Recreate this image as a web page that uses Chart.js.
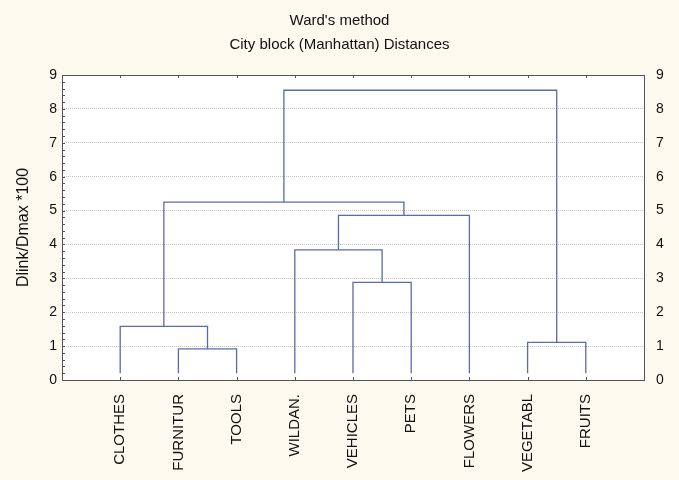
<!DOCTYPE html>
<html>
<head>
<meta charset="utf-8">
<script src="https://cdn.jsdelivr.net/npm/chart.js@4.4.0/dist/chart.umd.min.js"></script>
<style>
  html, body { margin: 0; padding: 0; background: #fdf9ee; }
  #wrap { width: 679px; height: 480px; }
</style>
</head>
<body>
<div id="wrap"><canvas id="dendro"></canvas></div>
<script>
// leaves in dendrogram order
const leafLabels = ['CLOTHES', 'FURNITUR', 'TOOLS', 'WILDAN.', 'VEHICLES', 'PETS', 'FLOWERS', 'VEGETABL', 'FRUITS'];
// merges: node ids 0..8 are leaves, each merge k creates node 9+k
const mergeLeft   = [1, 7, 0, 4, 3, 13, 11, 15];
const mergeRight  = [2, 8, 9, 5, 12, 6, 14, 10];
const mergeHeight = [0.92, 1.11, 1.58, 2.88, 3.84, 4.86, 5.25, 8.55];
const yTicks = [0, 1, 2, 3, 4, 5, 6, 7, 8, 9];
const leafBase = 0.2;

const lineColor = '#5b69ad';
const fontFamily = "'Liberation Sans', Arial, sans-serif";

// build the link lines
const nodeX = leafLabels.map((_, i) => i + 1);
const nodeH = leafLabels.map(() => leafBase);
const datasets = [];
mergeHeight.forEach((h, k) => {
    const a = mergeLeft[k], b = mergeRight[k];
    datasets.push({
        data: [
            { x: nodeX[a], y: nodeH[a] },
            { x: nodeX[a], y: h },
            { x: nodeX[b], y: h },
            { x: nodeX[b], y: nodeH[b] }
        ],
        showLine: true,
        borderColor: lineColor,
        borderWidth: 1.3,
        pointRadius: 0,
        tension: 0
    });
    nodeX.push((nodeX[a] + nodeX[b]) / 2);
    nodeH.push(h);
});

// background, frame and small tick marks
const framePlugin = {
    id: 'frame',
    beforeDraw(chart) {
        const { ctx, chartArea: a } = chart;
        ctx.save();
        ctx.fillStyle = '#fdf9ee';
        ctx.fillRect(0, 0, chart.width, chart.height);
        ctx.fillStyle = '#ffffff';
        ctx.fillRect(a.left, a.top, a.right - a.left, a.bottom - a.top);
        ctx.restore();
    },
    afterDraw(chart) {
        const { ctx, chartArea: a } = chart;
        const x = chart.scales.x, y = chart.scales.y;
        ctx.save();
        ctx.strokeStyle = '#555555';
        ctx.lineWidth = 1;
        ctx.strokeRect(Math.round(a.left) + 0.5, Math.round(a.top) + 0.5,
            Math.round(a.right - a.left), Math.round(a.bottom - a.top));
        ctx.beginPath();
        // minor ticks on the left axis
        for (let v = 0; v <= 9.001; v += 0.2) {
            const py = Math.round(y.getPixelForValue(v)) + 0.5;
            ctx.moveTo(a.left, py);
            ctx.lineTo(a.left + 3, py);
        }
        // category ticks top and bottom
        leafLabels.forEach((_, i) => {
            const px = Math.round(x.getPixelForValue(i + 1)) + 0.5;
            ctx.moveTo(px, a.top);
            ctx.lineTo(px, a.top + 3);
            ctx.moveTo(px, a.bottom);
            ctx.lineTo(px, a.bottom - 3);
        });
        ctx.stroke();
        ctx.restore();
    }
};

const ctx = document.getElementById('dendro').getContext('2d');
new Chart(ctx, {
    type: 'scatter',
    data: { datasets: datasets },
    plugins: [framePlugin],
    options: {
        responsive: true,
        maintainAspectRatio: false,
        animation: false,
        layout: { padding: 0 },
        plugins: {
            legend: { display: false },
            tooltip: { enabled: false },
            title: {
                display: true,
                text: ["Ward's method", 'City block (Manhattan) Distances'],
                color: '#111111',
                font: { family: fontFamily, size: 15, weight: 'normal', lineHeight: 1.6 },
                padding: { top: 9, bottom: 18 }
            }
        },
        scales: {
            x: {
                type: 'linear',
                position: 'bottom',
                min: 0,
                max: 10,
                afterBuildTicks: (s) => { s.ticks = leafLabels.map((_, i) => ({ value: i + 1 })); },
                afterFit: (s) => { s.height = 100; },
                grid: { display: false },
                border: { display: false },
                ticks: {
                    autoSkip: false,
                    minRotation: 90,
                    maxRotation: 90,
                    padding: 6,
                    color: '#111111',
                    font: { family: fontFamily, size: 15 },
                    callback: (v) => leafLabels[v - 1]
                }
            },
            y: {
                position: 'left',
                min: 0,
                max: 9,
                afterBuildTicks: (s) => { s.ticks = yTicks.map(v => ({ value: v })); },
                afterFit: (s) => { s.width = 62; },
                grid: { color: '#c4c4c4', lineWidth: 1, drawTicks: false },
                border: { display: false, dash: [1, 1] },
                ticks: {
                    padding: 5,
                    color: '#111111',
                    font: { family: fontFamily, size: 14 }
                },
                title: {
                    display: true,
                    text: 'Dlink/Dmax *100',
                    color: '#111111',
                    font: { family: fontFamily, size: 16 },
                    padding: { top: 14, bottom: 4 }
                }
            },
            y2: {
                position: 'right',
                min: 0,
                max: 9,
                afterBuildTicks: (s) => { s.ticks = yTicks.map(v => ({ value: v })); },
                afterFit: (s) => { s.width = 35; },
                grid: { display: false },
                border: { display: false },
                ticks: {
                    padding: 4,
                    color: '#111111',
                    font: { family: fontFamily, size: 14 }
                }
            }
        }
    }
});
</script>
</body>
</html>
